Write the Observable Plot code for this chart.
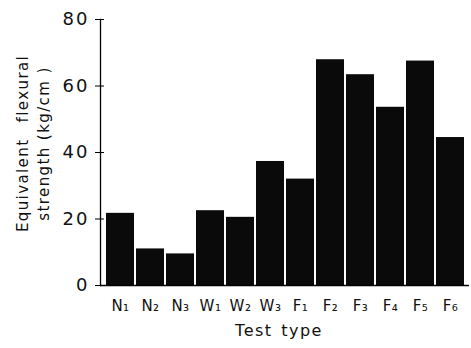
<!DOCTYPE html>
<html>
<head>
<meta charset="utf-8">
<script src="https://cdn.jsdelivr.net/npm/d3@7"></script>
<script src="https://cdn.jsdelivr.net/npm/@observablehq/plot@0.6"></script>
<style>
  html, body { margin: 0; padding: 0; background: #fff; }
  svg { font-family: "DejaVu Sans", sans-serif; }
</style>
</head>
<body>
<div id="chart"></div>
<script>
const testTypes = ["N₁", "N₂", "N₃", "W₁", "W₂", "W₃", "F₁", "F₂", "F₃", "F₄", "F₅", "F₆"];
const strength = [21.7, 11.0, 9.5, 22.5, 20.5, 37.3, 32.0, 67.9, 63.4, 53.6, 67.5, 44.5];
const yTicks = [0, 20, 40, 60, 80];
const yLabel = "Equivalent flexural\nstrength (kg/cm )";
const xLabel = "Test type";

const data = testTypes.map((t, i) => ({type: t, value: strength[i]}));

const chart = Plot.plot({
  width: 471,
  height: 348,
  marginLeft: 100,
  marginRight: 2,
  marginTop: 19,
  marginBottom: 63,
  style: {fontFamily: "DejaVu Sans, sans-serif", color: "#000", background: "#fff"},
  x: {domain: testTypes, padding: 0.08, label: null},
  y: {domain: [0, 80], label: null},
  marks: [
    Plot.barY(data, {x: "type", y: "value", fill: "#0a0a0a"}),
    Plot.frame({anchor: "left", stroke: "#000", strokeWidth: 1.3}),
    Plot.ruleY([0], {stroke: "#000", strokeWidth: 1.3}),
    Plot.axisY({ticks: yTicks, tickSize: 9, dx: 4, text: null, stroke: "#000"}),
    Plot.axisY({ticks: yTicks, tickSize: 0, tickPadding: 11, fontSize: 18, fill: "#111", label: null}),
    Plot.axisX({tickSize: 0, tickPadding: 15, fontSize: 15, fill: "#111", label: null}),
    Plot.text([xLabel], {frameAnchor: "bottom", dx: -6, dy: 50, fontSize: 16, fill: "#111", text: d => d}),
    Plot.text([yLabel], {frameAnchor: "left", textAnchor: "middle", dx: -69, dy: -9, rotate: -90, fontSize: 15, fill: "#111", lineHeight: 1.4, text: d => d})
  ]
});
const sel = d3.select(chart);
sel.selectAll('g[aria-label="y-axis tick label"] text').style("letter-spacing", "2px");
sel.selectAll('g[aria-label="x-axis tick label"] text').style("letter-spacing", "0.5px");
sel.selectAll('g[aria-label="text"] text').each(function() {
  const t = this.textContent;
  if (t.includes("Test")) d3.select(this).style("letter-spacing", "1.5px").style("word-spacing", "2px");
  if (t.includes("Equivalent")) {
    d3.select(this).style("letter-spacing", "1.4px");
    d3.select(this).selectAll("tspan").each(function() {
      if (this.textContent.includes("Equivalent")) d3.select(this).style("word-spacing", "10px");
    });
  }
});
document.getElementById("chart").appendChild(chart);
</script>
</body>
</html>
